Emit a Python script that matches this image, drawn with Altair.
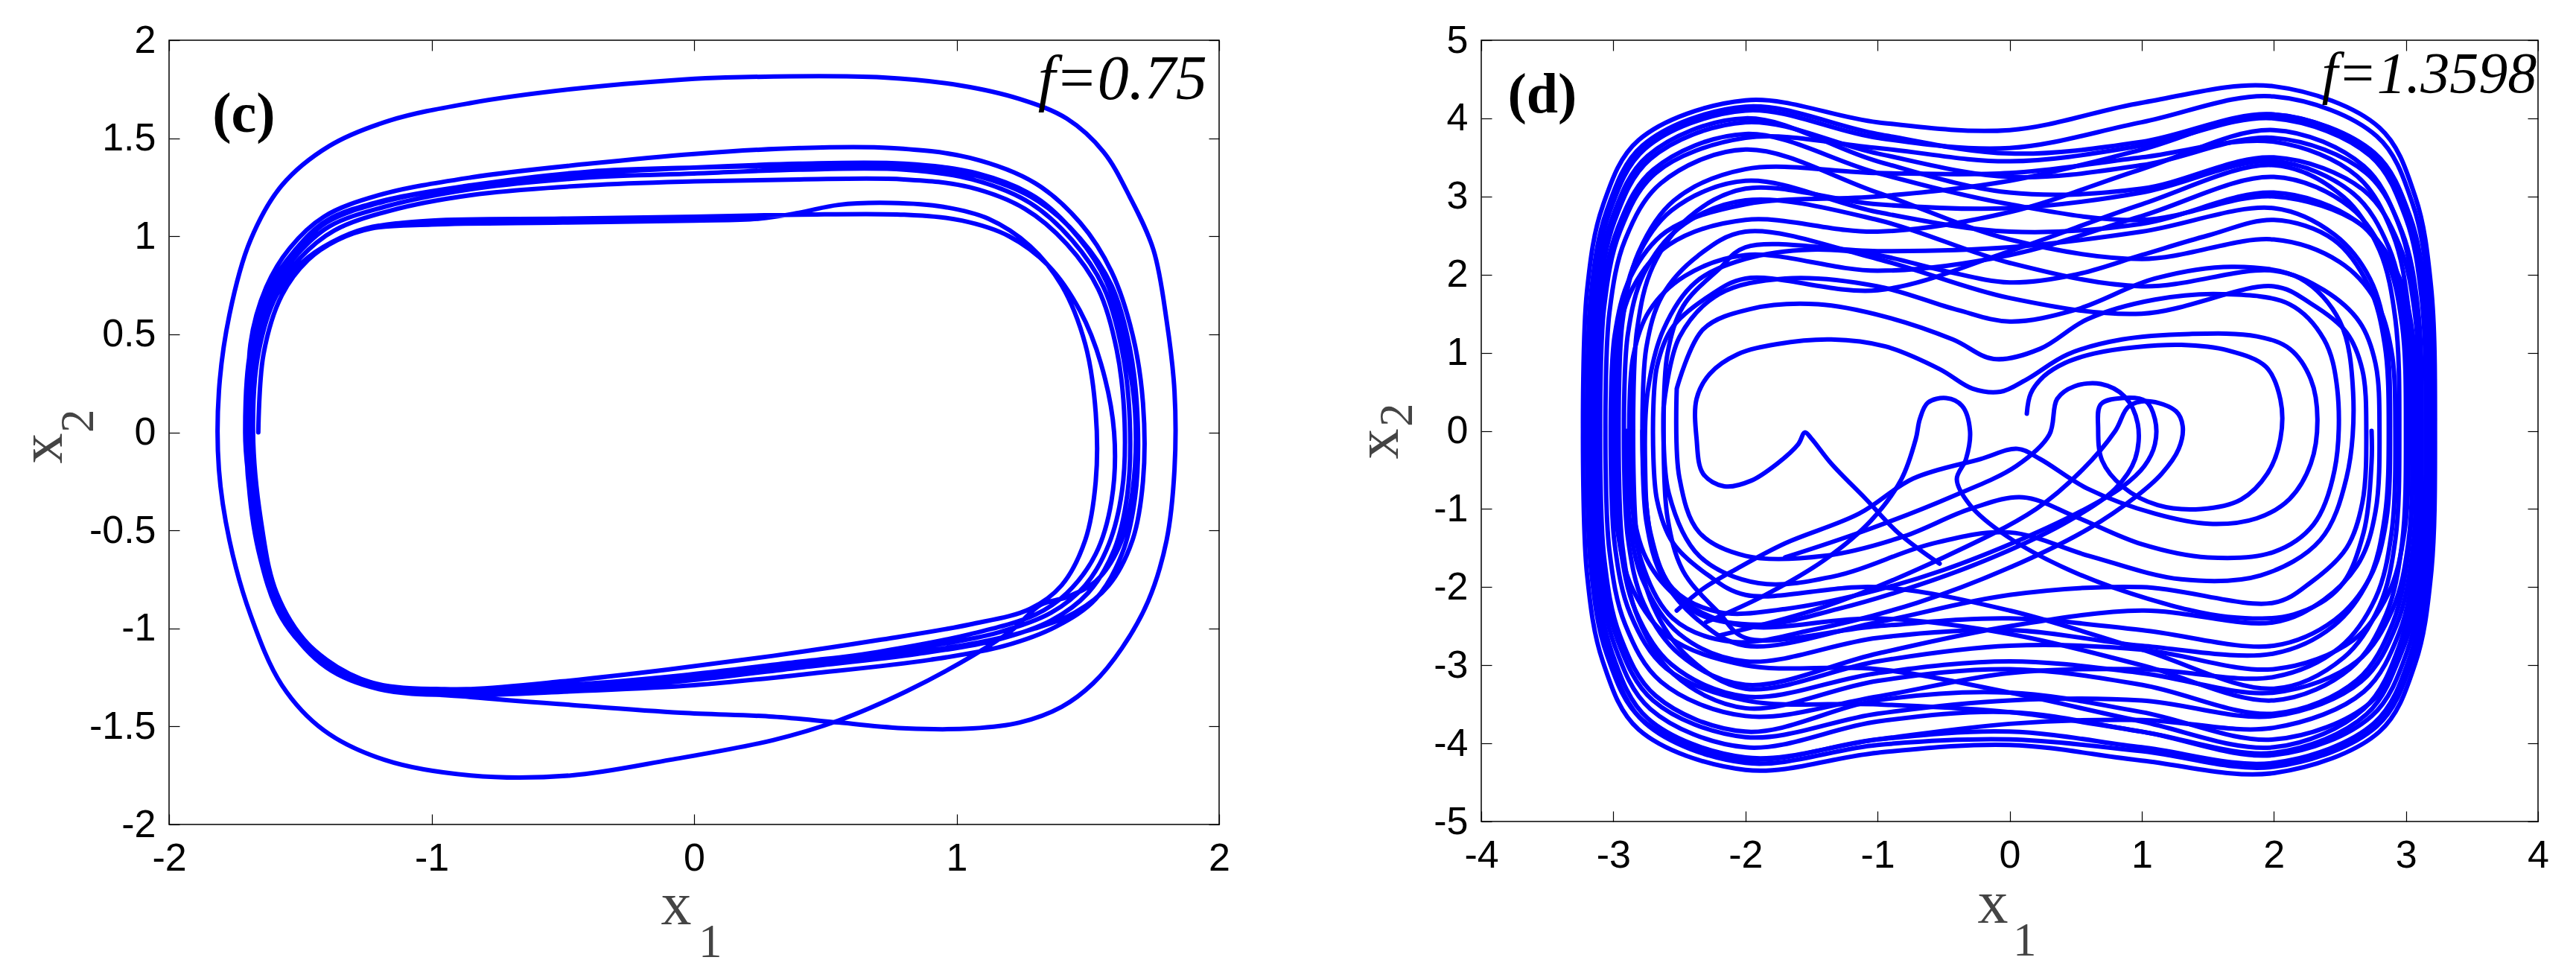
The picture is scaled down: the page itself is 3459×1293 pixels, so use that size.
import altair as alt
import pandas as pd

# ---------------- panel (c): f = 0.75 ----------------
C_INNER1 = [(-1.66,0.00),(-1.64,0.40),(-1.57,0.70),(-1.47,0.88),(-1.36,0.98),(-1.23,1.04),(-1.00,1.06),(-0.50,1.07),
            (0.00,1.08),(0.25,1.09),(0.40,1.12),(0.55,1.16),(0.75,1.17),(0.95,1.15),(1.12,1.09),(1.28,0.95),(1.40,0.75),
            (1.49,0.45),(1.53,0.10),(1.53,-0.25),(1.49,-0.55),(1.40,-0.78),(1.28,-0.90),(1.05,-0.98),(0.70,-1.06),
            (0.30,-1.14),(-0.10,-1.21),(-0.50,-1.27),(-0.85,-1.31),(-1.10,-1.31),(-1.30,-1.24),(-1.47,-1.08),
            (-1.59,-0.82),(-1.65,-0.45),(-1.68,0.00)]
C_INNER2 = [(-1.66,0.40),(-1.59,0.70),(-1.49,0.87),(-1.38,0.97),(-1.25,1.04),(-1.00,1.08),(-0.50,1.09),(0.00,1.10),
            (0.40,1.11),(0.80,1.11),(1.02,1.08),(1.20,1.00),(1.35,0.85),(1.47,0.62),(1.55,0.35),(1.60,0.00),
            (1.59,-0.35),(1.53,-0.62),(1.42,-0.82),(1.30,-0.93),(1.05,-1.03),(0.70,-1.12),(0.30,-1.19),(-0.10,-1.25),
            (-0.50,-1.29),(-0.90,-1.32),(-1.15,-1.31),(-1.35,-1.22),(-1.50,-1.05),(-1.61,-0.78),(-1.67,-0.42),(-1.69,0.00)]
C_B1 = [(-1.69,0.45),(-1.63,0.74),(-1.54,0.94),(-1.41,1.10),(-1.20,1.21),(-0.85,1.30),(-0.40,1.37),(0.00,1.42),
        (0.40,1.45),(0.75,1.45),(1.05,1.40),(1.30,1.27),(1.47,1.07),(1.59,0.82),(1.67,0.50),(1.71,0.15),(1.71,-0.25),
        (1.67,-0.55),(1.58,-0.78),(1.45,-0.92),(1.30,-1.00),(1.05,-1.08),(0.55,-1.17),(0.05,-1.25),(-0.45,-1.30),
        (-0.95,-1.32),(-1.22,-1.28),(-1.40,-1.16),(-1.55,-0.95),(-1.65,-0.60),(-1.70,-0.20),(-1.71,0.00)]
C_B2 = [(-1.69,0.42),(-1.62,0.72),(-1.52,0.92),(-1.40,1.07),(-1.20,1.17),(-0.85,1.26),(-0.40,1.32),(0.00,1.35),
        (0.40,1.37),(0.80,1.37),(1.08,1.32),(1.30,1.20),(1.46,1.00),(1.57,0.77),(1.64,0.45),(1.68,0.10),(1.67,-0.30),
        (1.62,-0.58),(1.53,-0.76),(1.42,-0.84)]
C_OUTER = [(1.32,-0.88),(1.21,-1.01),(1.06,-1.14),(0.81,-1.32),(0.55,-1.47),(0.30,-1.57),(-0.09,-1.67),(-0.47,-1.75),
           (-0.85,-1.75),(-1.18,-1.67),(-1.41,-1.52),(-1.57,-1.29),(-1.69,-0.93),(-1.77,-0.55),(-1.81,-0.19),
           (-1.81,0.21),(-1.77,0.60),(-1.69,0.98),(-1.57,1.26),(-1.39,1.46),(-1.16,1.59),(-0.85,1.68),(-0.47,1.75),
           (-0.04,1.80),(0.12,1.81),(0.72,1.81),(1.01,1.77),(1.24,1.70),(1.42,1.60),(1.56,1.43),(1.66,1.20),
           (1.75,0.93),(1.80,0.57),(1.83,0.21),(1.83,-0.19),(1.80,-0.55),(1.73,-0.86),(1.63,-1.10),(1.52,-1.28),
           (1.40,-1.40),(1.24,-1.48),(1.06,-1.51),(0.81,-1.51),(0.55,-1.48),(0.30,-1.45),(-0.05,-1.43),
           (-0.47,-1.39),(-0.85,-1.35),(-1.15,-1.31),(-1.38,-1.20),(-1.53,-1.00),(-1.64,-0.65),(-1.69,-0.25),(-1.70,0.00)]
C_B3 = [(-1.68,0.43),(-1.61,0.72),(-1.51,0.91),(-1.39,1.05),(-1.18,1.15),(-0.85,1.24),(-0.40,1.30),(0.00,1.32),
        (0.40,1.34),(0.80,1.34),(1.06,1.29),(1.28,1.17),(1.44,0.98),(1.56,0.74),(1.63,0.42),(1.66,0.05),(1.65,-0.32),
        (1.60,-0.60),(1.50,-0.82),(1.36,-0.96),(1.15,-1.06),(0.85,-1.13),(0.40,-1.20),(-0.05,-1.27),(-0.50,-1.31),
        (-0.95,-1.33),(-1.24,-1.29),(-1.42,-1.17),(-1.57,-0.95),(-1.66,-0.60),(-1.70,-0.20),(-1.70,0.00)]
C_B4 = [(-1.68,0.44),(-1.62,0.73),(-1.52,0.93),(-1.40,1.08),(-1.19,1.18),(-0.85,1.26),(-0.40,1.33),(0.00,1.35),
        (0.45,1.36),(0.85,1.35),(1.10,1.30),(1.31,1.18),(1.47,0.99),(1.59,0.75),(1.66,0.43),(1.69,0.05),(1.68,-0.33),
        (1.63,-0.62),(1.53,-0.85),(1.38,-0.99),(1.18,-1.09),(0.90,-1.16),(0.45,-1.23),(0.00,-1.29),(-0.45,-1.32),
        (-0.90,-1.34),(-1.20,-1.31),(-1.40,-1.20),(-1.55,-0.98),(-1.65,-0.62),(-1.70,-0.22),(-1.70,0.00)]
C_B5 = [(-1.67,0.42),(-1.60,0.70),(-1.50,0.89),(-1.37,1.03),(-1.16,1.13),(-0.85,1.21),(-0.40,1.26),(0.00,1.28),
        (0.40,1.29),(0.80,1.29),(1.05,1.25),(1.26,1.14),(1.42,0.96),(1.54,0.73),(1.61,0.42),(1.64,0.05),(1.63,-0.30),
        (1.58,-0.57),(1.49,-0.78),(1.36,-0.92),(1.16,-1.02),(0.85,-1.10),(0.40,-1.17),(-0.05,-1.24),(-0.50,-1.29),
        (-0.95,-1.31),(-1.22,-1.28),(-1.41,-1.17),(-1.56,-0.95),(-1.65,-0.60),(-1.69,-0.20),(-1.69,0.00)]
C_PATHS = [C_INNER1 + C_INNER2 + C_B1 + C_B2 + C_OUTER + C_B3 + C_B4 + C_B5]
C_CLOSED = [False]
C_XTICKS = [-2, -1, 0, 1, 2]
C_YTICKS = [-2, -1.5, -1, -0.5, 0, 0.5, 1, 1.5, 2]

# ---------------- panel (d): f = 1.3598 ----------------
L1 = [(-3.23,0),(-3.20,1.78),(-3.08,2.88),(-2.81,3.72),(-2,4.23),(-1,3.95),(0,3.85),(1,4.20),(2,4.41),(2.80,3.88),(3.07,3.00),(3.19,1.85),(3.22,0),(3.19,-1.84),(3.07,-2.98),(2.80,-3.85),(2,-4.38),(1,-4.22),(0,-4.02),(-1,-4.12),(-2,-4.34),(-2.81,-3.82),(-3.08,-2.95),(-3.20,-1.82)]
L2 = [(-3.18,0.05),(-3.15,1.72),(-3.03,2.79),(-2.76,3.61),(-2,4.10),(-1,3.75),(0,3.62),(1,3.95),(2,4.28),(2.78,3.77),(3.05,2.91),(3.17,1.80),(3.20,0),(3.17,-1.81),(3.05,-2.92),(2.78,-3.78),(2,-4.30),(1,-4.10),(0,-3.95),(-1,-4.02),(-2,-4.25),(-2.76,-3.74),(-3.03,-2.89),(-3.15,-1.79)]
L3 = [(-3.14,0),(-3.11,1.66),(-2.99,2.69),(-2.72,3.48),(-2,3.95),(-1,3.55),(0,3.25),(1,3.40),(2,3.75),(2.70,3.30),(2.97,2.55),(3.09,1.58),(3.12,0),(3.09,-1.73),(2.97,-2.80),(2.70,-3.63),(2,-4.12),(1,-3.85),(0,-3.60),(-1,-3.72),(-2,-4.05),(-2.72,-3.56),(-2.99,-2.75),(-3.11,-1.70)]
L4 = [(-3.10,0),(-3.07,1.58),(-2.95,2.55),(-2.68,3.30),(-2,3.75),(-1,3.62),(0,3.45),(1,3.65),(2,4.00),(2.73,3.52),(3.00,2.72),(3.12,1.68),(3.15,0),(3.12,-1.66),(3.00,-2.69),(2.73,-3.48),(2,-3.95),(1,-3.60),(0,-3.35),(-1,-3.45),(-2,-3.85),(-2.68,-3.39),(-2.95,-2.62),(-3.07,-1.62)]
L5 = [(-3.06,0),(-3.03,1.51),(-2.91,2.45),(-2.64,3.17),(-2,3.60),(-1,3.05),(0,2.45),(1,2.20),(2,2.45),(2.50,2.16),(2.77,1.67),(2.89,1.03),(2.92,0),(2.89,-1.32),(2.77,-2.14),(2.50,-2.77),(2,-3.15),(1,-3.05),(0,-3.10),(-1,-3.40),(-2,-3.65),(-2.64,-3.21),(-2.91,-2.48),(-3.03,-1.53)]
L6 = [(-3.00,0),(-2.97,1.13),(-2.85,1.84),(-2.58,2.38),(-2,2.70),(-1,2.55),(0,2.80),(1,3.35),(2,3.85),(2.68,3.39),(2.95,2.62),(3.07,1.62),(3.10,0),(3.07,-1.70),(2.95,-2.75),(2.68,-3.56),(2,-4.05),(1,-3.72),(0,-3.35),(-1,-3.05),(-2,-3.00),(-2.58,-2.64),(-2.85,-2.04),(-2.97,-1.26)]
L7 = [(-2.96,0),(-2.93,1.41),(-2.81,2.28),(-2.54,2.95),(-2,3.35),(-1,3.30),(0,3.30),(1,3.50),(2,3.70),(2.63,3.26),(2.90,2.52),(3.02,1.55),(3.05,0),(3.02,-1.52),(2.90,-2.46),(2.63,-3.19),(2,-3.62),(1,-3.25),(0,-3.05),(-1,-3.20),(-2,-3.55),(-2.54,-3.12),(-2.81,-2.41),(-2.93,-1.49)]
L8 = [(-2.92,0),(-2.89,1.24),(-2.77,2.01),(-2.50,2.60),(-2,2.95),(-1,2.70),(0,2.15),(1,1.85),(2,2.05),(2.38,1.80),(2.65,1.39),(2.77,0.86),(2.80,0),(2.77,-1.03),(2.65,-1.67),(2.38,-2.16),(2,-2.45),(1,-2.30),(0,-2.50),(-1,-2.85),(-2,-3.25),(-2.50,-2.86),(-2.77,-2.21),(-2.89,-1.37)]
L9 = [(-2.88,0),(-2.85,0.95),(-2.73,1.53),(-2.46,1.98),(-2,2.25),(-1,2.05),(0,2.25),(1,2.75),(2,3.25),(2.58,2.86),(2.85,2.21),(2.97,1.37),(3.00,0),(2.97,-1.45),(2.85,-2.35),(2.58,-3.04),(2,-3.45),(1,-3.00),(0,-2.60),(-1,-2.40),(-2,-2.50),(-2.46,-2.20),(-2.73,-1.70),(-2.85,-1.05)]
L10 = [(-2.85,0),(-2.82,1.30),(-2.70,2.11),(-2.43,2.73),(-2,3.10),(-1,2.90),(0,2.85),(1,3.05),(2,3.45),(2.60,3.04),(2.87,2.35),(2.99,1.45),(3.02,0),(2.99,-1.28),(2.87,-2.07),(2.60,-2.68),(2,-3.05),(1,-2.80),(0,-2.75),(-1,-2.95),(-2,-3.30),(-2.43,-2.90),(-2.70,-2.24),(-2.82,-1.39)]
L11 = [(-2.78,0),(-2.75,1.07),(-2.63,1.73),(-2.36,2.24),(-2,2.55),(-1,2.20),(0,1.70),(1,1.50),(2,1.85),(2.28,1.63),(2.55,1.26),(2.67,0.78),(2.70,0),(2.67,-0.92),(2.55,-1.50),(2.28,-1.94),(2,-2.20),(1,-2.00),(0,-2.10),(-1,-2.45),(-2,-2.75),(-2.36,-2.42),(-2.63,-1.87),(-2.75,-1.16)]
L12 = [(-2.70,0),(-2.67,0.82),(-2.55,1.33),(-2.28,1.72),(-2,1.95),(-1,1.80),(0,2.30),(1,2.90),(2,3.40),(2.53,2.99),(2.80,2.31),(2.92,1.43),(2.95,0),(2.92,-1.39),(2.80,-2.24),(2.53,-2.90),(2,-3.30),(1,-2.80),(0,-2.30),(-1,-2.00),(-2,-2.10),(-2.28,-1.85),(-2.55,-1.43),(-2.67,-0.88)]
L13 = [(-3.20,0),(-3.17,1.74),(-3.05,2.82),(-2.78,3.65),(-2,4.15),(-1,3.80),(0,3.55),(1,3.70),(2,4.05),(2.76,3.56),(3.03,2.75),(3.15,1.70),(3.18,0),(3.15,-1.79),(3.03,-2.89),(2.76,-3.74),(2,-4.25),(1,-4.05),(0,-3.85),(-1,-3.95),(-2,-4.20),(-2.78,-3.70),(-3.05,-2.86),(-3.17,-1.76)]
L14 = [(-3.12,0),(-3.09,1.60),(-2.97,2.58),(-2.70,3.34),(-2,3.80),(-1,3.30),(0,2.90),(1,2.70),(2,3.00),(2.66,2.64),(2.93,2.04),(3.05,1.26),(3.08,0),(3.05,-1.53),(2.93,-2.48),(2.66,-3.21),(2,-3.65),(1,-3.45),(0,-3.45),(-1,-3.62),(-2,-3.92),(-2.70,-3.45),(-2.97,-2.67),(-3.09,-1.65)]
L15 = [(-3.02,0),(-2.99,1.22),(-2.87,1.97),(-2.60,2.55),(-2,2.90),(-1,3.00),(0,3.20),(1,3.60),(2,4.05),(2.74,3.56),(3.01,2.75),(3.13,1.70),(3.16,0),(3.13,-1.74),(3.01,-2.82),(2.74,-3.65),(2,-4.15),(1,-3.85),(0,-3.60),(-1,-3.50),(-2,-3.45),(-2.60,-3.04),(-2.87,-2.35),(-2.99,-1.45)]
L16 = [(-2.62,0),(-2.59,0.99),(-2.47,1.60),(-2.20,2.07),(-2,2.35),(-1,2.30),(0,2.35),(1,2.55),(2,2.85),(2.46,2.51),(2.73,1.94),(2.85,1.20),(2.88,0),(2.85,-1.16),(2.73,-1.87),(2.46,-2.42),(2,-2.75),(1,-2.55),(0,-2.40),(-1,-2.50),(-2,-2.65),(-2.20,-2.33),(-2.47,-1.80),(-2.59,-1.11)]
L17 = [(-3.16,0),(-3.13,1.68),(-3.01,2.72),(-2.74,3.52),(-2,4.00),(-1,3.45),(0,3.05),(1,3.10),(2,3.50),(2.68,3.08),(2.95,2.38),(3.07,1.47),(3.10,0),(3.07,-1.60),(2.95,-2.58),(2.68,-3.34),(2,-3.80),(1,-3.70),(0,-3.75),(-1,-3.95),(-2,-4.18),(-2.74,-3.68),(-3.01,-2.84),(-3.13,-1.76)]
L18 = [(-2.98,0),(-2.95,1.34),(-2.83,2.18),(-2.56,2.82),(-2,3.20),(-1,2.80),(0,2.55),(1,2.65),(2,3.05),(2.63,2.68),(2.90,2.07),(3.02,1.28),(3.05,0),(3.02,-1.41),(2.90,-2.28),(2.63,-2.95),(2,-3.35),(1,-3.10),(0,-2.95),(-1,-3.10),(-2,-3.40),(-2.56,-2.99),(-2.83,-2.31),(-2.95,-1.43)]
D_MID = [(-2.52,0.54),(-2.32,1.30),(-1.96,1.56),(-1.45,1.62),(-0.94,1.46),(-0.43,1.17),(-0.12,0.92),(0.23,1.05),(0.59,1.43),(1.10,1.68),(1.61,1.75),(2.12,1.62),(2.38,1.17),(2.48,0.54),(2.46,-0.50),(2.30,-1.20),(2.00,-1.55),(1.50,-1.62),(1.00,-1.45),(0.50,-1.10),(0.10,-0.85),(-0.30,-1.00),(-0.80,-1.35),(-1.40,-1.60),(-2.00,-1.60),(-2.35,-1.30),(-2.50,-0.60)]
D_MID2 = [(-2.62,0.30),(-2.50,1.20),(-2.20,1.75),(-1.70,1.95),(-1.00,1.85),(-0.40,1.55),(0.00,1.40),(0.50,1.55),(1.10,1.95),(1.70,2.10),(2.20,1.95),(2.50,1.40),(2.60,0.50),(2.55,-0.60),(2.35,-1.40),(1.90,-1.85),(1.30,-1.90),(0.60,-1.60),(0.00,-1.30),(-0.60,-1.45),(-1.30,-1.85),(-1.90,-1.95),(-2.35,-1.60),(-2.58,-0.80)]
D_EAR = [(-0.53,-1.70),(-0.84,-1.31),(-1.09,-0.87),(-1.35,-0.42),(-1.50,-0.10),(-1.55,-0.02),(-1.60,-0.17),(-1.76,-0.42),(-1.96,-0.64),(-2.16,-0.71),(-2.32,-0.55),(-2.37,-0.10),(-2.37,0.41),(-2.27,0.73),(-2.06,0.98),(-1.76,1.11),(-1.35,1.17),(-0.94,1.08),(-0.53,0.79),(-0.28,0.54),(-0.07,0.50),(0.13,0.66),(0.44,0.98),(0.85,1.17),(1.36,1.24),(1.87,1.21),(2.12,1.05),(2.28,0.66),(2.33,0.15),(2.28,-0.42),(2.12,-0.87),(1.87,-1.12),(1.51,-1.19),(1.10,-1.06),(0.59,-0.74),(0.23,-0.36),(0.06,-0.23),(-0.22,-0.36),(-0.73,-0.61),(-1.14,-1.06),(-1.70,-1.44),(-2.06,-1.76),(-2.32,-2.02),(-2.52,-2.30)]
D_SPUR = [(0.13,0.22),(0.16,0.48),(0.26,0.70),(0.42,0.87),(0.64,0.99),(0.95,1.07),(1.30,1.10),(1.65,1.03),(1.94,0.82),(2.05,0.40),(2.05,-0.10),(1.95,-0.55),(1.75,-0.88),(1.45,-1.00),(1.12,-0.95),(0.86,-0.72),(0.70,-0.38),(0.67,0.03),(0.69,0.34),(0.85,0.42),(1.03,0.38),(1.10,0.15),(1.10,-0.17),(1.02,-0.45),(0.85,-0.72),(0.55,-1.02),(0.10,-1.38),(-0.50,-1.78),(-1.10,-2.08),(-1.70,-2.28),(-2.20,-2.32),(-2.55,-2.02),(-2.72,-1.30),(-2.76,-0.40),(-2.74,0.50),(-2.62,1.30),(-2.38,1.90),(-2.00,2.20),(-1.50,2.32),(-1.00,2.25),(-0.50,2.05),(0.00,1.90),(0.50,2.00),(1.00,2.25),(1.50,2.50),(2.00,2.70),(2.45,2.45),(2.72,1.85),(2.84,1.10),(2.87,0.00),(2.84,-1.10),(2.72,-1.90),(2.45,-2.50),(2.00,-2.85),(1.00,-2.75),(0.00,-2.55),(-1.00,-2.65),(-2.00,-2.95),(-2.50,-2.60),(-2.78,-1.90),(-2.88,-1.10),(-2.90,0.00)]
D_LOOPA = [(-2.30,-2.45),(-1.85,-2.10),(-1.40,-1.65),(-1.05,-1.15),(-0.82,-0.62),(-0.71,-0.10),(-0.68,0.15),(-0.62,0.36),(-0.48,0.42),(-0.36,0.32),(-0.30,0.00),(-0.33,-0.36),(-0.40,-0.62),(-0.30,-0.95),(-0.02,-1.35),(0.45,-1.78),(1.05,-2.15),(1.65,-2.38),(2.15,-2.35),(2.50,-2.00),(2.68,-1.30),(2.74,-0.40),(2.74,0.00)]
D_LOOPB = [(-1.70,-1.62),(-1.10,-1.28),(-0.45,-0.85),(0.05,-0.45),(0.30,-0.05),(0.36,0.41),(0.49,0.57),(0.69,0.60),(0.87,0.44),(0.97,0.09),(0.95,-0.36),(0.80,-0.74),(0.45,-1.15),(-0.10,-1.60),(-0.70,-1.98),(-1.30,-2.28),(-1.90,-2.48),(-2.40,-2.30),(-2.66,-1.70),(-2.76,-0.80),(-2.78,0.00)]
D_LOOPD = [(-2.20,-2.62),(-1.40,-2.25),(-0.50,-1.62),(0.20,-1.00),(0.55,-0.50),(0.80,0.00),(0.90,0.31),(1.05,0.38),(1.26,0.25),(1.31,0.06),(1.28,-0.23),(1.15,-0.55),(0.95,-0.85),(0.60,-1.25),(0.00,-1.75),(-0.70,-2.20),(-1.50,-2.55),(-2.10,-2.70),(-2.55,-2.40),(-2.80,-1.60),(-2.86,-0.60),(-2.86,0.00)]
D_PATHS = [L1, L2, L3, L4, L5, L6, L7, L8, L9, L10, L11, L12, L13, L14, L15, L16, L17, L18,
           D_MID, D_MID2, D_EAR, D_SPUR, D_LOOPA, D_LOOPB, D_LOOPD]
D_CLOSED = [True] * 18 + [True, True, False, False, False, False, False]
D_XTICKS = [-4, -3, -2, -1, 0, 1, 2, 3, 4]
D_YTICKS = [-5, -4, -3, -2, -1, 0, 1, 2, 3, 4, 5]

SERIF = "Liberation Serif, Times New Roman, serif"
SANS = "Liberation Sans, Arial, sans-serif"
LABEL_EXPR = "datum.value < 0 ? '-' + format(-datum.value, '~g') : format(datum.value, '~g')"


def to_frame(paths, closed):
    rows = []
    for pid, pts in enumerate(paths):
        seq = list(pts) + ([pts[0]] if closed[pid] else [])
        for i, (x, y) in enumerate(seq):
            rows.append({"path": pid, "i": i, "x": x, "y": y})
    return pd.DataFrame(rows)


def panel(df, xdom, ydom, xticks, yticks, w, h, tag, tag_pos, ftxt, f_pos, f_size, title_pos):
    xs = alt.Scale(domain=xdom, nice=False, zero=False)
    ys = alt.Scale(domain=ydom, nice=False, zero=False)
    common = dict(tickSize=14, offset=-14, domain=False, grid=False, tickColor="black", tickWidth=1.2,
                  title=None, labelFlush=False, labelOverlap=False)
    lab = dict(labelFont=SANS, labelFontSize=52, labelColor="black", labelExpr=LABEL_EXPR)
    line = alt.Chart(df).mark_line(
        interpolate="catmull-rom", color="#0000ff", strokeWidth=6, strokeCap="round", strokeJoin="round", clip=True
    ).encode(
        x=alt.X("x:Q", scale=xs, axis=alt.Axis(values=xticks, orient="bottom", labelPadding=20, **common, **lab)),
        y=alt.Y("y:Q", scale=ys, axis=alt.Axis(values=yticks, orient="left", labelPadding=18, **common, **lab)),
        detail="path:N",
        order="i:Q",
    )
    mirror = alt.Chart(df).mark_point(opacity=0).encode(
        x=alt.X("x:Q", scale=xs, axis=alt.Axis(values=xticks, orient="top", labels=False, **common)),
        y=alt.Y("y:Q", scale=ys, axis=alt.Axis(values=yticks, orient="right", labels=False, **common)),
    )
    tag_df = pd.DataFrame({"x": [tag_pos[0]], "y": [tag_pos[1]], "t": [tag]})
    tag_txt = alt.Chart(tag_df).mark_text(
        font=SERIF, fontSize=76, fontWeight="bold", align="left", baseline="alphabetic", color="black"
    ).encode(x=alt.X("x:Q", scale=xs, axis=None), y=alt.Y("y:Q", scale=ys, axis=None), text="t:N")
    f_df = pd.DataFrame({"x": [f_pos[0]], "y": [f_pos[1]], "t": [ftxt]})
    f_txt = alt.Chart(f_df).mark_text(
        font=SERIF, fontSize=f_size, fontStyle="italic", align="right", baseline="alphabetic", color="black"
    ).encode(x=alt.X("x:Q", scale=xs, axis=None), y=alt.Y("y:Q", scale=ys, axis=None), text="t:N")
    one = pd.DataFrame({"k": [0]})
    (xx, xy, x1x, x1y, yx, yy, y2x, y2y) = title_pos
    gray = "#444444"
    t_x = alt.Chart(one).mark_text(text="x", font=SERIF, fontSize=82, align="center", baseline="alphabetic",
                                    color=gray).encode(x=alt.value(xx), y=alt.value(xy))
    t_1 = alt.Chart(one).mark_text(text="1", font=SERIF, fontSize=63, align="left", baseline="alphabetic",
                                    color=gray).encode(x=alt.value(x1x), y=alt.value(x1y))
    t_y = alt.Chart(one).mark_text(text="x", font=SERIF, fontSize=82, align="center", baseline="alphabetic",
                                    angle=270, color=gray).encode(x=alt.value(yx), y=alt.value(yy))
    t_2 = alt.Chart(one).mark_text(text="2", font=SERIF, fontSize=63, align="left", baseline="alphabetic",
                                    angle=270, color=gray).encode(x=alt.value(y2x), y=alt.value(y2y))
    return alt.layer(line, mirror, tag_txt, f_txt, t_x, t_1, t_y, t_2).resolve_axis(
        x="independent", y="independent"
    ).properties(width=w, height=h)


c_df = to_frame(C_PATHS, C_CLOSED)
d_df = to_frame(D_PATHS, D_CLOSED)

left = panel(c_df, [-2, 2], [-2, 2], C_XTICKS, C_YTICKS, 1410, 1053,
             "(c)", (-1.835, 1.533), "f=0.75", (1.954, 1.70), 84,
             (681, 1187, 711, 1231, -144, 548, -102, 527))
right = panel(d_df, [-4, 4], [-5, 5], D_XTICKS, D_YTICKS, 1419, 1049,
              "(d)", (-3.80, 4.08), "f=1.3598", (3.99, 4.33), 78,
              (687, 1185, 714, 1229, -112, 542, -93, 519))

chart = alt.hconcat(left, right, spacing=157).properties(
    padding={"left": 8, "top": 19, "right": 0, "bottom": 0}, background="white"
).configure_view(stroke="black", strokeWidth=1.5)

chart.save("out.html", embed_options={"renderer": "svg", "actions": False})
